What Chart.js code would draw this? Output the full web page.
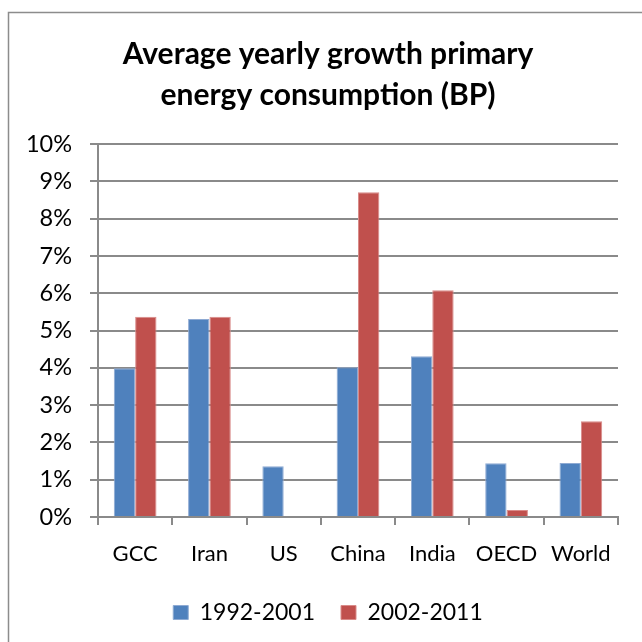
<!DOCTYPE html>
<html>
<head>
<meta charset="utf-8">
<script src="https://cdn.jsdelivr.net/npm/chart.js@4/dist/chart.umd.min.js"></script>
<style>
  html, body { margin: 0; padding: 0; background: #fff; }
  #wrap { width: 642px; height: 642px; }
</style>
</head>
<body>
<div id="wrap"><canvas id="c" width="642" height="642"></canvas></div>
<script>
// Data (fractions, 0.04 = 4%)
const regions = ['GCC', 'Iran', 'US', 'China', 'India', 'OECD', 'World'];
const growth1992_2001 = [0.0399, 0.0531, 0.0136, 0.0402, 0.0431, 0.0144, 0.0145];
const growth2002_2011 = [0.0537, 0.0537, 0, 0.0871, 0.0608, 0.0019, 0.0257];
const yTicks = [0, 0.01, 0.02, 0.03, 0.04, 0.05, 0.06, 0.07, 0.08, 0.09, 0.1];

const FONT = 'Lato, "Open Sans", sans-serif';
const GRID = '#8a8a8a';

// grey frame of the chart object, cut off at the right and bottom
const frame = {
  id: 'frame',
  afterLayout(chart) {
    // y labels stick out into the left padding, don't clip them
    chart.scales.y.left = 0;
  },
  beforeDraw(chart) {
    const ctx = chart.ctx;
    ctx.save();
    ctx.strokeStyle = '#8c8c8c';
    ctx.lineWidth = 1.5;
    ctx.beginPath();
    ctx.moveTo(8.5, chart.height);
    ctx.lineTo(8.5, 12.5);
    ctx.lineTo(chart.width, 12.5);
    ctx.stroke();
    ctx.restore();
  }
};

new Chart(document.getElementById('c'), {
  type: 'bar',
  data: {
    labels: regions,
    datasets: [
      {
        label: '1992-2001',
        data: growth1992_2001,
        backgroundColor: '#4F81BD',
        borderColor: '#8eaad3',
        borderWidth: 1,
        categoryPercentage: 0.575,
        barPercentage: 1
      },
      {
        label: '2002-2011',
        data: growth2002_2011,
        backgroundColor: '#C0504D',
        borderColor: '#d98b89',
        borderWidth: 1,
        categoryPercentage: 0.575,
        barPercentage: 1
      }
    ]
  },
  options: {
    responsive: false,
    animation: false,
    // left/right padding also shifts the centred title and legend to the right
    layout: { padding: { left: 38, right: 24, top: 0, bottom: 8 } },
    plugins: {
      title: {
        display: true,
        text: ['Average yearly growth primary', 'energy consumption (BP)'],
        color: '#000',
        font: { family: FONT, size: 30, weight: 'bold', lineHeight: 1.37 },
        padding: { top: 34, bottom: 28 }
      },
      legend: {
        position: 'bottom',
        labels: {
          color: '#000',
          font: { family: FONT, size: 23 },
          boxWidth: 15,
          boxHeight: 14,
          padding: 26
        }
      },
      tooltip: { enabled: false }
    },
    scales: {
      x: {
        grid: {
          display: true,
          drawOnChartArea: false,
          color: GRID,
          lineWidth: 2,
          tickLength: 8,
          offset: true
        },
        border: { color: GRID, width: 2 },
        ticks: { color: '#000', font: { family: FONT, size: 22 }, padding: 16 },
        afterFit(scale) { scale.height = 58; }
      },
      y: {
        min: 0,
        max: 0.1,
        afterBuildTicks(scale) { scale.ticks = yTicks.map(v => ({ value: v })); },
        grid: { color: GRID, lineWidth: 2, tickLength: 8 },
        border: { color: GRID, width: 2 },
        ticks: {
          color: '#000',
          font: { family: FONT, size: 23.5 },
          padding: 18,
          callback: v => Math.round(v * 100) + '%'
        },
        afterFit(scale) { scale.width = 60; }
      }
    }
  },
  plugins: [frame]
});
</script>
</body>
</html>
